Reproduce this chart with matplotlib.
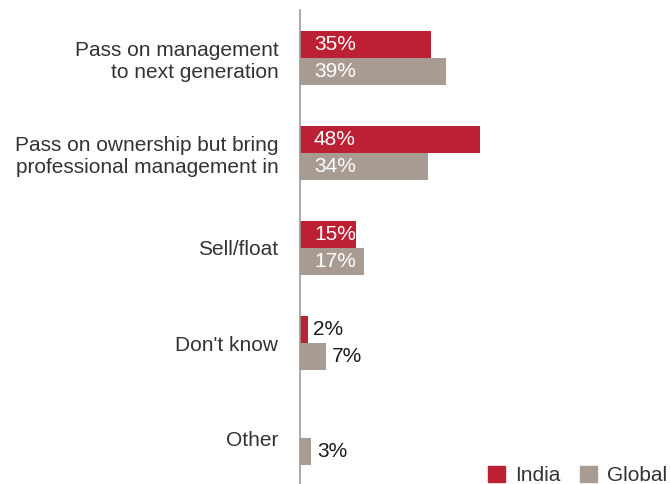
import matplotlib.pyplot as plt
import numpy as np

plt.rcParams['font.family'] = ['Liberation Sans', 'DejaVu Sans']

categories = ["Pass on management\nto next generation",
              "Pass on ownership but bring\nprofessional management in",
              "Sell/float",
              "Don't know",
              "Other"]
india = [35, 48, 15, 2, 0]
global_ = [39, 34, 17, 7, 3]
series_names = ["India", "Global"]

red = '#BC2035'
grey = '#A89C92'

fig = plt.figure(figsize=(6.7, 4.84), dpi=100)
ax = fig.add_axes([300 / 670, 0, 370 / 670, 474 / 484])

y = np.arange(len(categories))
h = 0.284
b1 = ax.barh(y - h / 2, india, height=h, color=red)
b2 = ax.barh(y + h / 2, global_, height=h, color=grey)

ax.set_xlim(0, 370 / 3.75)
ax.set_ylim(4.484, -0.505)

def label(bars, vals):
    for bar, v in zip(bars, vals):
        if v == 0:
            continue
        yc = bar.get_y() + bar.get_height() / 2
        if v >= 10:
            ax.annotate(f"{v}%", (0, yc), xytext=(14, 0), textcoords='offset pixels',
                        ha='left', va='center', color='white', fontsize=15)
        else:
            ax.annotate(f"{v}%", (v, yc), xytext=(6, 0), textcoords='offset pixels',
                        ha='left', va='center', color='#1a1a1a', fontsize=15)

label(b1, india)
label(b2, global_)

ax.set_yticks(y)
ax.set_yticklabels(categories, fontsize=15, color='#333333', linespacing=1.2)
ax.tick_params(axis='y', length=0, pad=15.5)
ax.set_xticks([])
for s in ['top', 'right', 'bottom']:
    ax.spines[s].set_visible(False)
ax.spines['left'].set_color('#999999')
ax.spines['left'].set_linewidth(1.2)

handles = [plt.Rectangle((0, 0), 1, 1, color=red), plt.Rectangle((0, 0), 1, 1, color=grey)]
fig.legend(handles, series_names, loc='lower right', bbox_to_anchor=(1.015, -0.028), ncol=2,
           frameon=False, fontsize=15, handlelength=0.8, handleheight=0.8,
           handletextpad=0.5, columnspacing=0.96, borderaxespad=0.2,
           labelcolor='#333333')

fig.savefig('out.png', dpi=100)
